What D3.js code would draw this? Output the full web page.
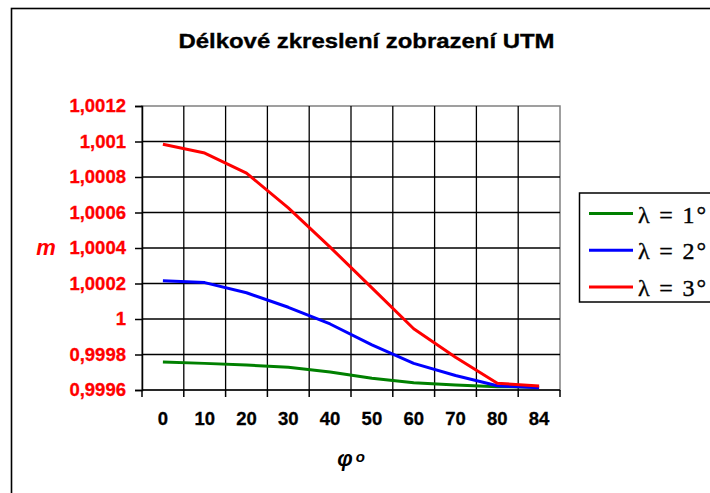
<!DOCTYPE html>
<html>
<head>
<meta charset="utf-8">
<script src="https://cdn.jsdelivr.net/npm/d3@7"></script>
<style>
  body { margin: 0; background: #fff; }
  svg { display: block; }
</style>
</head>
<body>
<div id="chart"></div>
<script>
// Latitude categories (φ°)
const categories = ["0", "10", "20", "30", "40", "50", "60", "70", "80", "84"];

// Scale factor m
const lambda1 = [0.999758, 0.99975, 0.999741, 0.999728, 0.999702, 0.999666, 0.999641, 0.999628, 0.999619, 0.999615];
const lambda2 = [1.000216, 1.000205, 1.000148, 1.000066, 0.999972, 0.999854, 0.99975, 0.999682, 0.999624, 0.999612];
const lambda3 = [1.000984, 1.000935, 1.000822, 1.000626, 1.000405, 1.000175, 0.999945, 0.999785, 0.999638, 0.999622];

const seriesNames = ["λ = 1°", "λ = 2°", "λ = 3°"];
const seriesColors = ["#008000", "#0000ff", "#ff0000"];
const yTicks = [0.9996, 0.9998, 1, 1.0002, 1.0004, 1.0006, 1.0008, 1.001, 1.0012];

const width = 710;
const height = 493;
const sans = "Liberation Sans, Arial, sans-serif";
const serif = "Liberation Serif, Times New Roman, serif";

const svg = d3.select("#chart")
  .append("svg")
  .attr("width", width)
  .attr("height", height);

// Chart area frame (runs off the right and bottom edges)
svg.append("rect")
  .attr("x", 11.5)
  .attr("y", 8.5)
  .attr("width", 720)
  .attr("height", 500)
  .attr("fill", "#fff")
  .attr("stroke", "#000")
  .attr("stroke-width", 1.6);

const plot = { left: 142, right: 560, top: 106, bottom: 390 };

const x = d3.scaleBand()
  .domain(categories)
  .range([plot.left, plot.right]);

const y = d3.scaleLinear()
  .domain([0.9996, 1.0012])
  .range([plot.bottom, plot.top]);

const cz = d3.formatLocale({ decimal: ",", thousands: " ", grouping: [3], currency: ["", " Kč"] });
const fmt = cz.format(".5~g");

// Title
svg.append("text")
  .attr("x", 366.5)
  .attr("y", 47.5)
  .attr("text-anchor", "middle")
  .attr("font-family", sans)
  .attr("font-weight", "bold")
  .attr("font-size", 21)
  .attr("textLength", 376)
  .attr("lengthAdjust", "spacingAndGlyphs")
  .attr("fill", "#000")
  .attr("stroke", "#000")
  .attr("stroke-width", 0.35)
  .text("Délkové zkreslení zobrazení UTM");

// Plot area border (grey top & right)
svg.append("rect")
  .attr("x", plot.left)
  .attr("y", plot.top)
  .attr("width", plot.right - plot.left)
  .attr("height", plot.bottom - plot.top)
  .attr("fill", "#fff")
  .attr("stroke", "#808080")
  .attr("stroke-width", 1.5);

// Horizontal gridlines
svg.append("g")
  .selectAll("line")
  .data(yTicks.filter((d) => d !== 0.9996 && d !== 1.0012))
  .enter()
  .append("line")
  .attr("x1", plot.left)
  .attr("x2", plot.right)
  .attr("y1", (d) => y(d))
  .attr("y2", (d) => y(d))
  .attr("stroke", "#000")
  .attr("stroke-width", 1.3);

// Vertical gridlines at category boundaries
const bounds = categories.slice(1).map((c) => x(c));
svg.append("g")
  .selectAll("line")
  .data(bounds)
  .enter()
  .append("line")
  .attr("x1", (d) => d)
  .attr("x2", (d) => d)
  .attr("y1", plot.top)
  .attr("y2", plot.bottom)
  .attr("stroke", "#000")
  .attr("stroke-width", 1.3);

// Y axis
const yAxis = svg.append("g")
  .attr("transform", `translate(${plot.left},0)`)
  .call(d3.axisLeft(y).tickValues(yTicks).tickFormat(fmt).tickSize(7).tickPadding(9));
yAxis.select(".domain").attr("stroke", "#000").attr("stroke-width", 1.5);
yAxis.selectAll(".tick line").attr("stroke", "#000").attr("stroke-width", 1.5);
yAxis.selectAll("text")
  .attr("font-family", sans)
  .attr("font-weight", "bold")
  .attr("font-size", 18.5)
  .attr("fill", "#ff0000")
  .attr("stroke", "#ff0000")
  .attr("stroke-width", 0.3);

// X axis: labels centred in categories, ticks at boundaries
const xAxis = svg.append("g")
  .attr("transform", `translate(0,${plot.bottom})`)
  .call(d3.axisBottom(x).tickSize(0).tickPadding(22));
xAxis.select(".domain").remove();
xAxis.selectAll("text")
  .attr("font-family", sans)
  .attr("font-weight", "bold")
  .attr("font-size", 18.5)
  .attr("fill", "#000")
  .attr("stroke", "#000")
  .attr("stroke-width", 0.3);

svg.append("line")
  .attr("x1", plot.left)
  .attr("x2", plot.right)
  .attr("y1", plot.bottom)
  .attr("y2", plot.bottom)
  .attr("stroke", "#000")
  .attr("stroke-width", 1.5);

svg.append("g")
  .selectAll("line")
  .data([plot.left, ...bounds, plot.right])
  .enter()
  .append("line")
  .attr("x1", (d) => d)
  .attr("x2", (d) => d)
  .attr("y1", plot.bottom)
  .attr("y2", plot.bottom + 7)
  .attr("stroke", "#000")
  .attr("stroke-width", 1.5);

// Axis titles
svg.append("text")
  .attr("x", 46)
  .attr("y", y(1.0004) + 7)
  .attr("text-anchor", "middle")
  .attr("font-family", sans)
  .attr("font-weight", "bold")
  .attr("font-style", "italic")
  .attr("font-size", 22)
  .attr("fill", "#ff0000")
  .text("m");

const phi = svg.append("text")
  .attr("x", (plot.left + plot.right) / 2)
  .attr("y", 466)
  .attr("text-anchor", "middle")
  .attr("font-family", sans)
  .attr("font-weight", "bold")
  .attr("font-style", "italic")
  .attr("font-size", 22)
  .attr("fill", "#000");
phi.append("tspan").text("φ");
phi.append("tspan").attr("dx", 3).attr("dy", -4).attr("font-size", 15).text("o");

// Series lines
const series = [lambda1, lambda2, lambda3];
const line = d3.line()
  .x((d, i) => x(categories[i]) + x.bandwidth() / 2)
  .y((d) => y(d));

svg.append("g")
  .selectAll("path")
  .data(series)
  .enter()
  .append("path")
  .attr("d", (d) => line(d))
  .attr("fill", "none")
  .attr("stroke", (d, i) => seriesColors[i])
  .attr("stroke-width", 3)
  .attr("stroke-linejoin", "round");

// Legend
const legend = svg.append("g");
legend.append("rect")
  .attr("x", 579.5)
  .attr("y", 193)
  .attr("width", 160)
  .attr("height", 109)
  .attr("fill", "#fff")
  .attr("stroke", "#000")
  .attr("stroke-width", 1.5);

const legendRows = legend.selectAll(".row")
  .data(seriesNames)
  .enter()
  .append("g")
  .attr("class", "row")
  .attr("transform", (d, i) => `translate(0,${213.5 + i * 36.7})`);

legendRows.append("line")
  .attr("x1", 589)
  .attr("x2", 633)
  .attr("y1", 0)
  .attr("y2", 0)
  .attr("stroke", (d, i) => seriesColors[i])
  .attr("stroke-width", 3);

legendRows.append("text")
  .attr("x", 638)
  .attr("y", 9)
  .attr("font-family", serif)
  .attr("font-size", 24)
  .attr("textLength", 68)
  .attr("lengthAdjust", "spacing")
  .attr("fill", "#000")
  .attr("stroke", "#000")
  .attr("stroke-width", 0.4)
  .text((d) => d);
</script>
</body>
</html>
